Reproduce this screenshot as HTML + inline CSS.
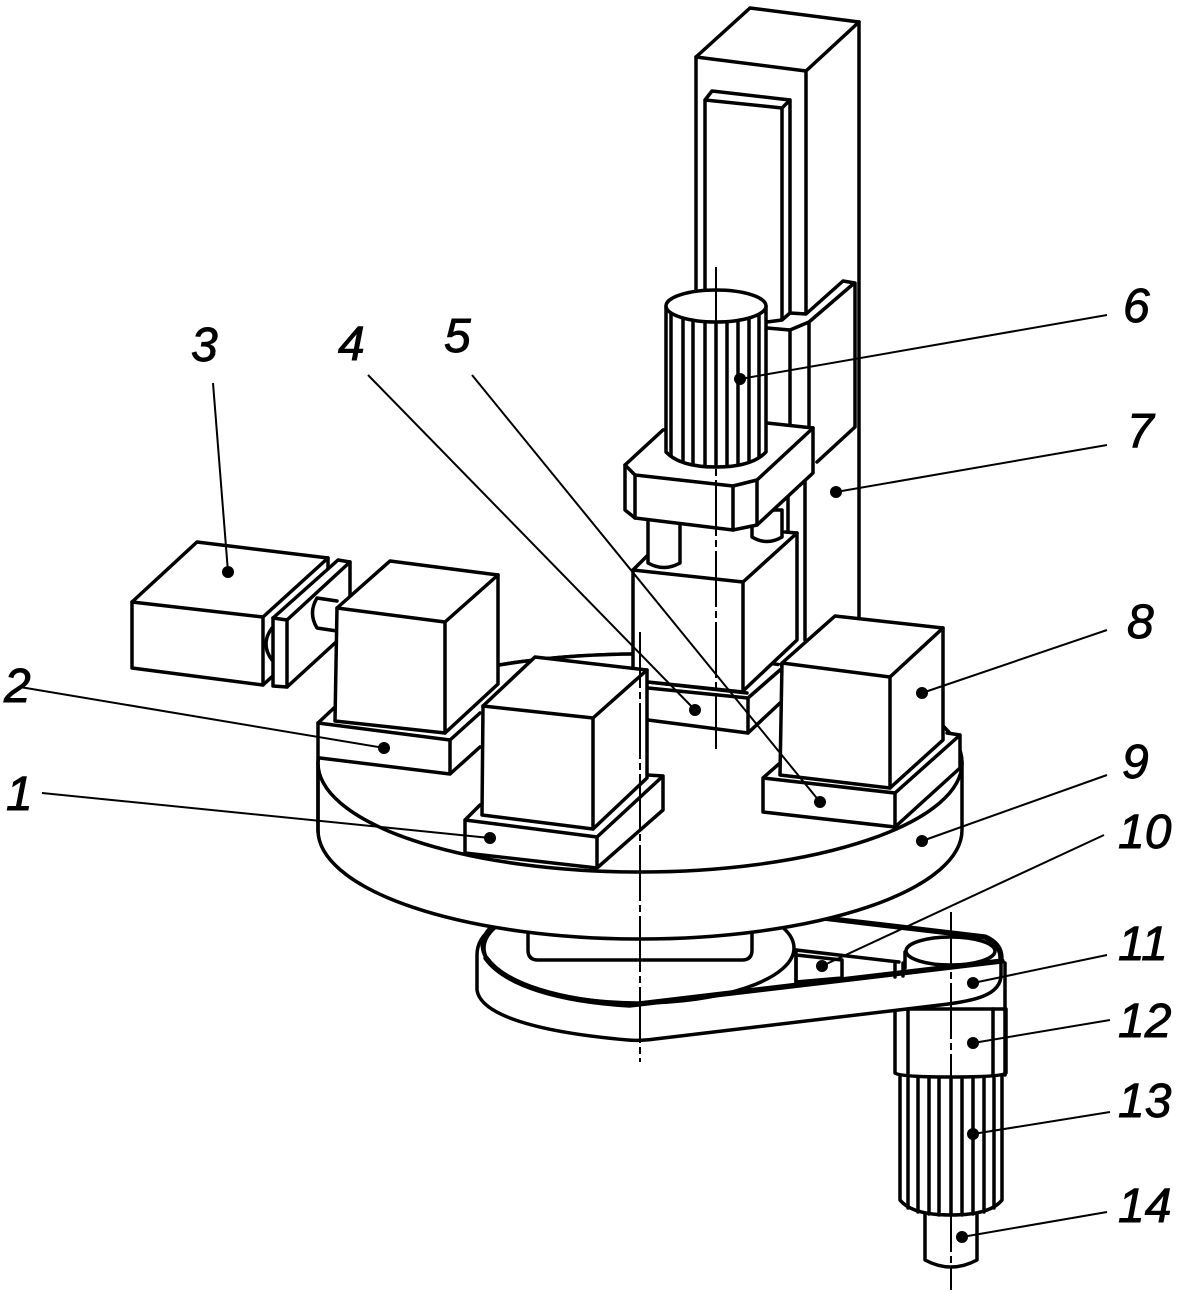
<!DOCTYPE html>
<html><head><meta charset="utf-8">
<style>
html,body{margin:0;padding:0;background:#fff}
svg{display:block}
.f{fill:#fff;stroke:none}
.m{fill:#fff;stroke:#000;stroke-width:3.5;stroke-linejoin:round;stroke-linecap:round}
.n{fill:none;stroke:#000;stroke-width:3.5;stroke-linejoin:round;stroke-linecap:round}
.t{fill:none;stroke:#000;stroke-width:5.4;stroke-linejoin:round;stroke-linecap:round}
.l{fill:none;stroke:#000;stroke-width:2}
.a{fill:none;stroke:#000;stroke-width:2;stroke-dasharray:56 4 7 4}
text{font-family:"Liberation Sans",sans-serif;font-style:italic;font-size:48px;fill:#000;stroke:#000;stroke-width:.9}
</style></head><body>
<svg width="1179" height="1294" viewBox="0 0 1179 1294" xmlns="http://www.w3.org/2000/svg">
<rect width="1179" height="1294" fill="#fff"/>

<!-- tower -->
<path class="n" d="M696,57 L750,8 L859,22 V640 M696,57 V300"/>
<path class="n" d="M696,57 L806,71 L859,22 M806,71 V320"/>
<path class="n" d="M705,100 L712,91 L790,100 V316 M705,100 L782,108 V322 M705,100 V300 M782,108 L790,100"/>
<!-- bracket -->
<path class="f" d="M767,325 L782,320 L790,313 L806,314 L843,281 L855,283 V427 L817,462 L790,490 H767 Z"/>
<path class="n" d="M767,322 L782,320 L790,313 L806,314 L843,281 L855,283 V427 L817,462"/>
<path class="n" d="M767,328 L790,330 L809,322 L852,285 M790,330 V490 M809,322 V430"/>
<path class="n" d="M788,480 V640 M805,480 V640"/>

<!-- lower motor, shaft -->
<path class="m" d="M925,1205 V1260 Q951,1274 977,1260 V1205 Z"/>
<path class="m" d="M900,1070 V1200 Q912,1215 951,1215 Q990,1215 1002,1200 V1070 Z"/>
<path class="n" d="M908,1078 V1208 M918,1078 V1212 M929,1078 V1214 M939,1078 V1215 M951,1078 V1215 M962,1078 V1215 M973,1078 V1214 M984,1078 V1212 M994,1078 V1208"/>
<path class="m" d="M895,1009 V1073 Q900,1077 951,1077 Q1002,1077 1006,1073 V1009 Z"/>
<path class="n" d="M908,1009 V1076 M993,1009 V1076"/>

<!-- pulley housing -->
<path class="m" d="M477,955 V990 C480,1012 525,1031 628,1040 Q640,1041 655,1039 L940,1005 C975,1001 1001,995 1001,975 V958 C1000,948 995,941 985,937 L823,918 L640,900 L494,927 Q477,938 477,955 Z"/>
<path class="n" d="M1005,963 V1075"/>
<path class="n" d="M905,952 V968 M895,963 V977 M903,963 V976"/>
<ellipse class="n" cx="950.5" cy="951" rx="44.5" ry="14"/>
<path class="t" d="M823,918 L985,937 Q1001,944 1001,958"/>
<path class="n" d="M796,950 L899,962"/>
<path class="m" d="M796,955 L842,960 V978 L796,982 Z"/>
<path class="n" d="M796,950 V985"/>
<ellipse class="m" cx="639" cy="948" rx="155" ry="55"/>
<path class="n" d="M490,928 Q477,942 486,958"/>
<path class="n" d="M528,925 V950 Q528,960 538,960 H742 Q752,960 752,950 V925"/>
<path class="t" d="M486,958 C505,985 560,1001 630,1005 L1002,961"/>

<!-- disk -->
<path class="m" d="M318,763 V830 A322,109 0 0 0 962,830 V763 A322,109 0 0 0 318,763 Z"/>
<ellipse class="m" cx="640" cy="763" rx="322" ry="109"/>

<!-- block 4 base + box -->
<path class="f" d="M648,682 L747,693 L780,665 V700 L748,733 L648,720 Z"/>
<path class="n" d="M648,682 L747,693 M648,688 L748,698 V733 M748,698 L780,670 M748,733 L780,703 M648,720 L748,733"/>
<path class="f" d="M633,570 L648,555 L785,532 L797,533 V640 L743,692 L633,680 Z"/>
<path class="n" d="M633,570 L648,555 M785,532 L797,533 V640 L743,691 M633,570 V680 M648,682 L743,692"/>
<path class="n" d="M633,570 L743,582 L797,533 M743,582 V690"/>
<!-- pillars -->
<path class="m" d="M648,510 V563 Q664,572 680,563 V510 Z"/>
<path class="m" d="M752,510 V537 Q767,546 782,537 V510 Z"/>
<!-- flange -->
<path class="m" d="M625,465 L663,430 L767,423 L813,428 V473 L757,525 L733,530 L635,518 L625,510 Z"/>
<path class="n" d="M625,465 L635,475 L733,486 L757,480 L813,428 M635,475 V518 M733,486 V530 M757,480 V525"/>
<!-- motor 6 -->
<path class="m" d="M666,306 V452 Q680,467 716,467 Q752,467 766,452 V306 Z"/>
<path class="n" d="M671,312 V456 M683,317 V461 M693,320 V464 M705,321 V466 M716,322 V467 M727,321 V466 M738,320 V464 M749,317 V461 M759,312 V456"/>
<ellipse class="m" cx="716" cy="306" rx="50" ry="16"/>

<!-- block 3 -->
<path class="m" d="M197,542 L328,558 V625 L263,685 L132,668 V602 Z"/>
<path class="n" d="M132,602 L263,617 L328,558 M263,617 V685"/>
<path class="n" d="M272,628 Q260,644 272,660"/>
<path class="f" d="M273,618 L338,560 L350,562 V620 L335,643 L287,687 L273,686 Z"/>
<path class="n" d="M273,618 L338,560 L350,562 V600 M273,618 V686 L287,687 L335,643"/>
<path class="n" d="M273,618 L287,620 L350,562 M287,620 V687"/>
<path class="m" d="M337,601 L317,598 Q308,613 317,628 L337,631"/>

<!-- block 2 -->
<path class="f" d="M318,723 L335,707 L480,713 V747 L450,774 L320,758 L318,758 Z"/>
<path class="n" d="M318,723 L335,707 M318,723 L450,740 L480,713 M450,740 V774 M320,758 L450,774 L480,747"/>
<path class="m" d="M337,608 L390,561 L498,575 V684 L445,733 L335,721 Z"/>
<path class="n" d="M337,608 L445,622 L498,575 M445,622 V733"/>
<path class="n" d="M318,723 V832"/>

<!-- block 8 -->
<path class="f" d="M763,778 L780,763 L947,733 L960,735 V768 L895,827 L763,812 Z"/>
<path class="n" d="M763,778 L780,763 M947,733 L960,735 V768 L895,827 L763,812 V778 L895,793 L960,735 M895,793 V827"/>
<path class="m" d="M782,663 L835,616 L943,628 V740 L890,788 L780,775 Z"/>
<path class="n" d="M782,663 L890,677 L943,628 M890,677 V788"/>

<!-- block 1 -->
<path class="f" d="M465,820 L480,805 L648,775 L663,776 V810 L597,868 L465,853 Z"/>
<path class="n" d="M465,820 L480,805 M648,775 L663,776 V810 L597,868 L465,853 V820 L597,837 L663,776 M597,837 V868"/>
<path class="m" d="M483,706 L535,657 L647,670 V778 L593,829 L482,815 Z"/>
<path class="n" d="M483,706 L593,718 L647,670 M593,718 V829"/>

<!-- axes -->
<line class="a" x1="716" y1="267" x2="716" y2="750"/>
<line class="a" x1="640" y1="632" x2="640" y2="1062"/>
<line class="a" x1="951" y1="912" x2="951" y2="1290"/>

<!-- leaders -->
<path class="l" d="M42,793 L490,838 M20,687 L384,748 M213,383 L228,572 M368,375 L695,710 M472,375 L820,802 M1107,315 L740,379 M1107,445 L836,492 M1107,630 L922,693 M1107,775 L922,841 M1104,835 L822,966 M1107,955 L973,983 M1110,1020 L973,1043 M1110,1112 L973,1134 M1107,1212 L962,1237"/>
<g fill="#000">
<circle cx="490" cy="838" r="6"/><circle cx="384" cy="748" r="6"/><circle cx="228" cy="572" r="6"/><circle cx="695" cy="710" r="6"/><circle cx="820" cy="802" r="6"/><circle cx="740" cy="379" r="6"/><circle cx="836" cy="492" r="6"/><circle cx="922" cy="693" r="6"/><circle cx="922" cy="841" r="6"/><circle cx="822" cy="966" r="6"/><circle cx="973" cy="983" r="6"/><circle cx="973" cy="1043" r="6"/><circle cx="973" cy="1134" r="6"/><circle cx="962" cy="1237" r="6"/>
</g>

<!-- labels -->
<text x="6" y="810">1</text>
<text x="4" y="702">2</text>
<text x="191" y="361">3</text>
<text x="338" y="360">4</text>
<text x="444" y="352">5</text>
<text x="1123" y="322">6</text>
<text x="1127" y="447">7</text>
<text x="1127" y="638">8</text>
<text x="1122" y="778">9</text>
<text x="1118" y="848">10</text>
<text x="1118" y="960">11</text>
<text x="1118" y="1037">12</text>
<text x="1118" y="1117">13</text>
<text x="1118" y="1222">14</text>
</svg>
</body></html>
